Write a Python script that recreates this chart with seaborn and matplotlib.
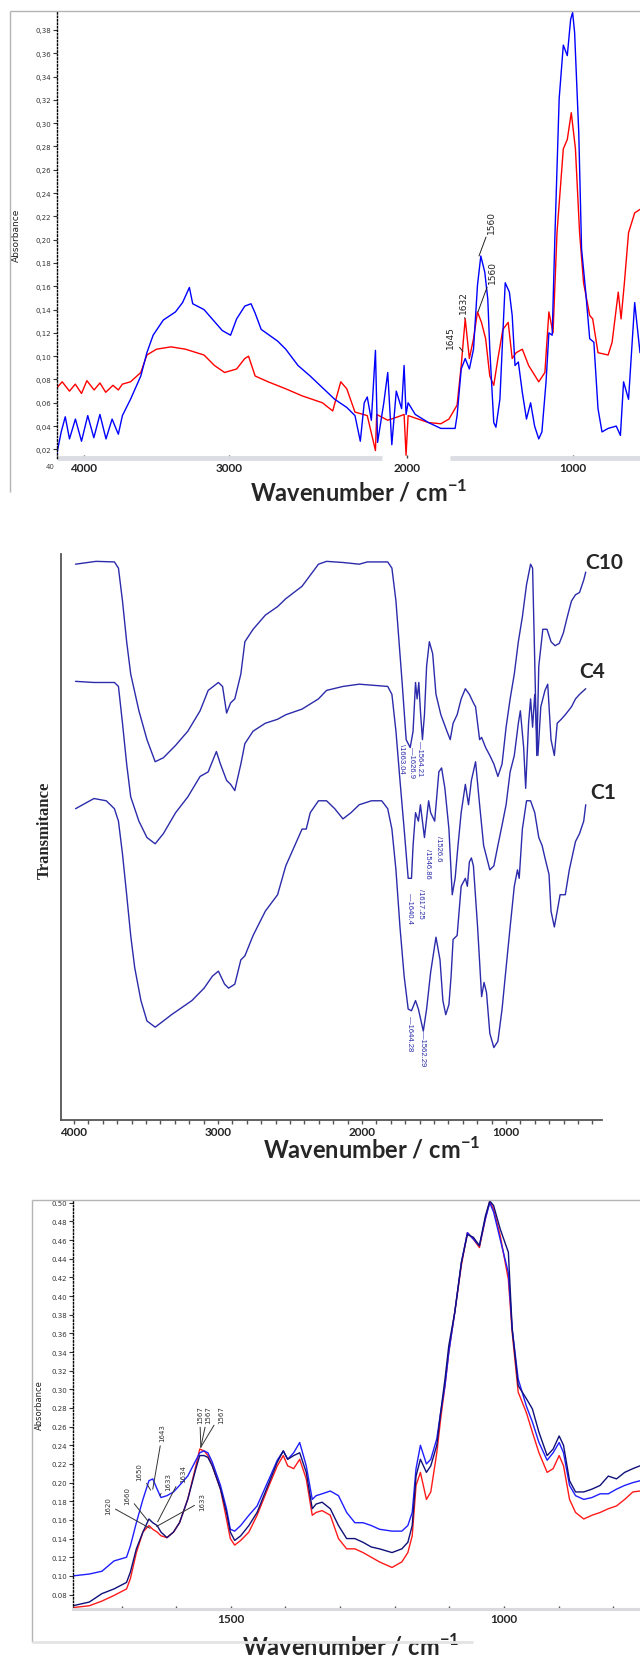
import numpy as np
import matplotlib
matplotlib.use("Agg")
import matplotlib.pyplot as plt
from matplotlib.lines import Line2D
from matplotlib.ticker import MultipleLocator
import seaborn as sns

sns.set_style("white")
plt.rcParams["font.family"] = ["DejaVu Sans"]
plt.rcParams["mathtext.fontset"] = "custom"
plt.rcParams["mathtext.rm"] = "Lato"
plt.rcParams["mathtext.bf"] = "Lato:bold"

# ---------------- panel 1: absorbance, full range (blue / red) ----------------
P1_BLUE_WN = [4186, 4157, 4129, 4100, 4059, 4017, 3974, 3932, 3890, 3848, 3806, 3763, 3735, 3679,
              3608, 3566, 3523, 3453, 3369, 3320, 3273, 3250, 3172, 3116, 3046, 2991, 2957, 2911,
              2876, 2853, 2819, 2727, 2681, 2612, 2544, 2475, 2406, 2338, 2292, 2262, 2240, 2223,
              2200, 2177, 2165, 2130, 2108, 2085, 2060, 2030, 2016, 2005, 1993, 1950, 1870, 1796,
              1710, 1698, 1673, 1649, 1624, 1599, 1575, 1555, 1531, 1513, 1501, 1477, 1464, 1440,
              1422, 1408, 1383, 1366, 1349, 1329, 1305, 1280, 1255, 1231, 1206, 1187, 1162, 1145,
              1125, 1108, 1083, 1058, 1034, 1014, 1002, 990, 965, 948, 923, 899, 874, 849, 825,
              788, 739, 714, 695, 665, 628, 596]
P1_BLUE_ABS = [0.017, 0.035, 0.048, 0.029, 0.046, 0.027, 0.049, 0.030, 0.050, 0.029, 0.046, 0.033,
               0.049, 0.063, 0.083, 0.103, 0.118, 0.131, 0.138, 0.146, 0.159, 0.145, 0.140, 0.132,
               0.122, 0.118, 0.132, 0.143, 0.145, 0.137, 0.123, 0.113, 0.106, 0.092, 0.083, 0.073,
               0.063, 0.056, 0.049, 0.027, 0.060, 0.065, 0.045, 0.105, 0.026, 0.060, 0.086, 0.024,
               0.070, 0.055, 0.092, 0.050, 0.060, 0.050, 0.043, 0.038, 0.038, 0.049, 0.089, 0.098,
               0.089, 0.106, 0.161, 0.186, 0.172, 0.149, 0.106, 0.043, 0.039, 0.063, 0.120, 0.163,
               0.155, 0.135, 0.092, 0.095, 0.069, 0.046, 0.060, 0.040, 0.029, 0.035, 0.078, 0.120,
               0.118, 0.206, 0.321, 0.367, 0.358, 0.389, 0.395, 0.378, 0.292, 0.192, 0.155, 0.115,
               0.112, 0.055, 0.035, 0.038, 0.040, 0.032, 0.078, 0.063, 0.146, 0.103]
P1_RED_WN = [4186, 4150, 4100, 4060, 4017, 3980, 3930, 3890, 3850, 3800, 3763, 3735, 3679, 3608,
             3566, 3500, 3400, 3300, 3172, 3100, 3030, 2957, 2911, 2890, 2853, 2780, 2681, 2590,
             2475, 2417, 2372, 2338, 2292, 2223, 2177, 2170, 2108, 2050, 2016, 2005, 1993, 1870,
             1796, 1747, 1698, 1673, 1649, 1624, 1599, 1575, 1551, 1526, 1501, 1477, 1452, 1422,
             1390, 1366, 1342, 1305, 1267, 1206, 1169, 1145, 1120, 1096, 1058, 1034, 1010, 985,
             960, 936, 899, 881, 849, 788, 764, 727, 710, 690, 665, 628, 596]
P1_RED_ABS = [0.073, 0.078, 0.070, 0.076, 0.068, 0.079, 0.071, 0.077, 0.069, 0.075, 0.071, 0.076,
              0.078, 0.086, 0.101, 0.106, 0.108, 0.106, 0.101, 0.092, 0.086, 0.089, 0.098, 0.100,
              0.083, 0.078, 0.072, 0.066, 0.060, 0.053, 0.078, 0.072, 0.052, 0.049, 0.019, 0.050,
              0.045, 0.048, 0.050, 0.015, 0.049, 0.043, 0.042, 0.046, 0.058, 0.092, 0.132, 0.098,
              0.115, 0.138, 0.129, 0.115, 0.083, 0.075, 0.098, 0.123, 0.129, 0.098, 0.103, 0.106,
              0.092, 0.078, 0.086, 0.138, 0.120, 0.206, 0.278, 0.286, 0.309, 0.278, 0.206, 0.163,
              0.135, 0.132, 0.103, 0.101, 0.112, 0.155, 0.132, 0.163, 0.206, 0.223, 0.226]
P1_YTICKS = [0.02, 0.04, 0.06, 0.08, 0.10, 0.12, 0.14, 0.16, 0.18, 0.20,
             0.22, 0.24, 0.26, 0.28, 0.30, 0.32, 0.34, 0.36, 0.38]
P1_XTICKS = [4000, 3000, 2000, 1000]
P1_PEAK_LABELS = ["1645", "1632", "1560", "1560"]
P1_PEAK_WN = [1663, 1651, 1566, 1572]
P1_PEAK_ABS = [0.104, 0.132, 0.186, 0.138]
P1_TEXT_WN = [1735, 1657, 1488, 1482]
P1_TEXT_ABS = [0.117, 0.147, 0.216, 0.173]
# the pasted tick labels of panel 1 are not evenly spaced: piecewise axis
P1_SCALE_WN = [0, 1000, 2000, 3000, 4000, 5000]
P1_SCALE_POS = [-739, -573, -407, -229, -84, 61]

# ---------------- panel 2: transmittance of C10 / C4 / C1 ----------------
C10_WN = [3989, 3847, 3719, 3691, 3663, 3634, 3606, 3549, 3493, 3436, 3379, 3294, 3209, 3124,
          3068, 2997, 2968, 2940, 2912, 2883, 2841, 2813, 2756, 2671, 2586, 2529, 2416, 2302,
          2246, 2132, 2019, 1962, 1821, 1792, 1764, 1721, 1693, 1665, 1645, 1628, 1617, 1605,
          1594, 1580, 1566, 1551, 1532, 1509, 1486, 1452, 1410, 1387, 1367, 1339, 1311, 1282,
          1254, 1226, 1211, 1183, 1169, 1141, 1112, 1084, 1056, 1027, 999, 971, 942, 914, 886,
          857, 829, 815, 800, 786, 772, 744, 715, 687, 659, 630, 602, 574, 545, 517, 489, 460, 446]
C10_T = [98.2, 98.7, 98.6, 97.5, 91.7, 84.5, 78.8, 72.3, 67.2, 63.3, 64.0, 66.2, 68.7, 72.3, 75.9,
         77.3, 76.6, 71.9, 73.7, 74.4, 78.8, 84.5, 86.7, 89.2, 90.7, 92.1, 94.3, 98.2, 98.7, 98.5,
         98.2, 98.6, 98.6, 97.5, 91.7, 77.3, 67.2, 65.8, 68.7, 77.3, 74.4, 77.3, 72.3, 67.2, 71.6,
         80.2, 84.5, 82.4, 75.2, 71.6, 68.7, 67.2, 70.1, 71.6, 74.4, 76.2, 75.2, 73.7, 73.0, 67.2,
         67.6, 65.8, 64.4, 62.9, 60.7, 62.9, 69.4, 74.4, 78.8, 84.5, 88.9, 94.6, 98.2, 97.5, 80.9,
         64.4, 80.2, 86.7, 86.7, 84.5, 83.8, 84.2, 86.0, 88.9, 91.7, 92.8, 93.2, 95.4, 96.8]
C4_WN = [3989, 3861, 3719, 3691, 3663, 3634, 3606, 3549, 3493, 3436, 3379, 3294, 3209, 3124, 3068,
         3011, 2983, 2940, 2912, 2883, 2841, 2813, 2756, 2671, 2586, 2529, 2416, 2302, 2246, 2132,
         2019, 1821, 1792, 1764, 1736, 1707, 1679, 1656, 1645, 1628, 1608, 1594, 1566, 1537, 1523,
         1495, 1466, 1447, 1424, 1396, 1373, 1353, 1333, 1311, 1282, 1260, 1240, 1211, 1183, 1155,
         1112, 1084, 1056, 1027, 999, 971, 942, 914, 900, 877, 863, 843, 829, 815, 800, 778, 758,
         729, 710, 687, 664, 644, 616, 588, 545, 517, 489, 446]
C4_T = [77.5, 77.3, 77.3, 76.6, 70.1, 62.9, 57.1, 52.8, 49.9, 48.8, 50.6, 54.3, 57.1, 60.7, 61.5,
        65.1, 62.9, 60.0, 59.3, 58.2, 62.9, 66.5, 68.7, 70.1, 70.8, 71.6, 72.6, 74.4, 75.9, 76.6,
        77.0, 76.6, 75.2, 68.7, 60.0, 51.4, 42.7, 42.7, 48.5, 54.3, 52.8, 55.7, 49.9, 56.4, 54.3,
        52.8, 61.5, 62.2, 58.6, 51.4, 39.8, 42.7, 48.5, 54.3, 59.3, 55.7, 60.0, 63.3, 55.7, 48.5,
        44.2, 44.9, 48.5, 52.1, 55.7, 61.5, 64.4, 70.1, 72.3, 65.8, 58.6, 70.1, 74.4, 69.4, 75.2,
        64.4, 73.0, 75.9, 77.0, 67.2, 64.4, 70.1, 70.8, 71.6, 73.0, 74.4, 75.2, 76.2]
C1_WN = [3989, 3861, 3776, 3719, 3691, 3663, 3634, 3606, 3578, 3535, 3493, 3436, 3379, 3323, 3266,
         3181, 3096, 3039, 2997, 2954, 2926, 2883, 2841, 2813, 2756, 2671, 2586, 2529, 2416, 2387,
         2359, 2302, 2246, 2189, 2132, 2076, 2019, 1934, 1863, 1821, 1792, 1764, 1736, 1707, 1679,
         1656, 1628, 1608, 1574, 1551, 1523, 1486, 1458, 1438, 1418, 1396, 1381, 1367, 1339, 1311,
         1282, 1268, 1254, 1240, 1226, 1197, 1169, 1152, 1135, 1112, 1084, 1056, 1027, 999, 971,
         942, 920, 908, 886, 857, 829, 800, 772, 749, 729, 701, 687, 664, 644, 624, 588, 560, 517,
         489, 460, 446]
C1_T = [55.0, 56.8, 56.4, 55.0, 52.8, 47.0, 39.8, 32.6, 26.9, 21.1, 17.5, 16.4, 17.5, 18.6, 19.6,
        21.1, 23.3, 25.4, 26.3, 24.0, 23.3, 24.0, 28.3, 29.0, 32.6, 36.9, 39.8, 44.9, 51.4, 51.4,
        54.3, 56.4, 56.4, 55.0, 53.2, 54.3, 55.7, 56.4, 56.4, 55.0, 51.4, 44.2, 34.1, 25.4, 19.6,
        19.3, 21.1, 19.6, 15.7, 19.6, 26.1, 32.3, 28.3, 21.1, 18.6, 20.4, 25.4, 31.9, 32.6, 41.3,
        42.7, 41.3, 45.6, 46.3, 44.9, 34.1, 21.8, 24.3, 22.5, 15.3, 12.8, 13.9, 19.6, 26.9, 34.1,
        41.3, 44.2, 42.7, 51.4, 56.4, 56.4, 54.3, 49.9, 48.5, 46.3, 43.4, 36.9, 34.1, 36.9, 39.8,
        39.8, 44.2, 49.2, 50.6, 52.8, 55.7]
P2_XTICKS = [4000, 3000, 2000, 1000]
P2_SERIES = ["C10", "C4", "C1"]
P2_SERIES_WN = [320, 403, 327]
P2_SERIES_T = [98.6, 79.3, 58.0]
P2_PEAK_LABELS = ["\\1663.04", "\u20141626.9", "\u20141564.21", "/1526.6", "/1546.86",
                  "/1617.25", "\u20141640.4", "\u20141644.28", "\u20141562.29"]
P2_PEAK_WN = [1722, 1653, 1597, 1465, 1542, 1590, 1667, 1667, 1583]
P2_PEAK_T = [64.0, 63.4, 64.0, 48.1, 45.4, 38.3, 37.6, 15.5, 12.7]

# ---------------- panel 3: absorbance, 1790-750 cm-1 ----------------
P3_WN = [1789, 1759, 1736, 1714, 1691, 1684, 1673, 1661, 1650, 1643, 1635, 1628, 1617, 1605, 1594,
         1579, 1564, 1557, 1549, 1542, 1534, 1519, 1508, 1501, 1493, 1482, 1467, 1452, 1430, 1415,
         1404, 1396, 1385, 1374, 1362, 1351, 1344, 1333, 1318, 1303, 1288, 1273, 1258, 1243, 1228,
         1205, 1187, 1176, 1168, 1161, 1153, 1142, 1134, 1123, 1116, 1108, 1101, 1090, 1078, 1067,
         1056, 1045, 1034, 1026, 1019, 1007, 992, 985, 974, 959, 948, 936, 921, 910, 899, 891, 880,
         869, 854, 839, 824, 809, 794, 779, 764, 751]
P3_BLUE = [0.100, 0.102, 0.105, 0.116, 0.120, 0.132, 0.157, 0.182, 0.202, 0.204,
           0.193, 0.184, 0.186, 0.190, 0.197, 0.207, 0.224, 0.232, 0.234, 0.232,
           0.222, 0.197, 0.172, 0.150, 0.148, 0.154, 0.165, 0.175, 0.204, 0.224,
           0.234, 0.225, 0.232, 0.243, 0.218, 0.182, 0.186, 0.188, 0.191, 0.186,
           0.168, 0.157, 0.157, 0.154, 0.150, 0.148, 0.148, 0.154, 0.168, 0.215,
           0.240, 0.220, 0.225, 0.247, 0.275, 0.304, 0.340, 0.383, 0.436, 0.468,
           0.461, 0.454, 0.483, 0.500, 0.490, 0.461, 0.425, 0.365, 0.311, 0.282,
           0.265, 0.243, 0.224, 0.232, 0.243, 0.232, 0.197, 0.186, 0.182, 0.184,
           0.188, 0.188, 0.193, 0.197, 0.200, 0.202]
P3_NAVY = [0.068, 0.072, 0.081, 0.086, 0.093, 0.104, 0.129, 0.147, 0.161, 0.157,
           0.154, 0.147, 0.141, 0.147, 0.157, 0.182, 0.215, 0.229, 0.229, 0.227,
           0.218, 0.193, 0.168, 0.147, 0.138, 0.143, 0.154, 0.168, 0.200, 0.222,
           0.234, 0.225, 0.229, 0.232, 0.211, 0.172, 0.177, 0.179, 0.172, 0.154,
           0.140, 0.140, 0.136, 0.131, 0.129, 0.125, 0.129, 0.136, 0.154, 0.207,
           0.225, 0.211, 0.218, 0.240, 0.275, 0.311, 0.347, 0.383, 0.436, 0.466,
           0.463, 0.454, 0.486, 0.502, 0.497, 0.472, 0.447, 0.365, 0.304, 0.290,
           0.279, 0.254, 0.229, 0.236, 0.250, 0.240, 0.202, 0.190, 0.190, 0.193,
           0.197, 0.207, 0.204, 0.211, 0.215, 0.218]
P3_RED = [0.066, 0.068, 0.073, 0.079, 0.086, 0.097, 0.125, 0.147, 0.154, 0.150,
          0.147, 0.143, 0.141, 0.147, 0.157, 0.182, 0.218, 0.236, 0.234, 0.229,
          0.218, 0.193, 0.161, 0.140, 0.133, 0.138, 0.147, 0.165, 0.197, 0.218,
          0.229, 0.218, 0.215, 0.225, 0.204, 0.165, 0.168, 0.170, 0.165, 0.140,
          0.129, 0.129, 0.125, 0.120, 0.115, 0.109, 0.115, 0.125, 0.143, 0.197,
          0.211, 0.182, 0.190, 0.232, 0.268, 0.304, 0.340, 0.383, 0.433, 0.468,
          0.461, 0.452, 0.483, 0.502, 0.493, 0.465, 0.418, 0.361, 0.297, 0.275,
          0.254, 0.232, 0.211, 0.215, 0.229, 0.218, 0.182, 0.168, 0.161, 0.165,
          0.168, 0.172, 0.175, 0.182, 0.190, 0.191]
P3_YTICKS = [0.08, 0.10, 0.12, 0.14, 0.16, 0.18, 0.20, 0.22, 0.24, 0.26, 0.28,
             0.30, 0.32, 0.34, 0.36, 0.38, 0.40, 0.42, 0.44, 0.46, 0.48, 0.50]
P3_XTICKS = [1500, 1000]
P3_PEAK_LABELS = ["1620", "1660", "1650", "1643", "1633", "1634", "1633", "1567", "1567", "1567"]
P3_TEXT_WN = [1725, 1690, 1667, 1625, 1615, 1588, 1553, 1557, 1542, 1518]
P3_TEXT_ABS = [0.176, 0.187, 0.212, 0.254, 0.202, 0.210, 0.180, 0.274, 0.274, 0.274]
P3_PEAK_WN = [1648, 1652, 1647, 1643, 1630, 1634, 1636, 1555, 1555, 1555]
P3_PEAK_ABS = [0.151, 0.159, 0.192, 0.193, 0.186, 0.158, 0.153, 0.238, 0.238, 0.238]

W, H = 640, 1658
XLABEL = "Wavenumber / cm$^{\\mathbf{-1}}$"


def fx(px):
    return px / W


def fy(py):
    return 1 - py / H


def frame_line(fig, x0, y0, x1, y1, color, lw):
    fig.add_artist(Line2D([fx(x0), fx(x1)], [fy(y0), fy(y1)], transform=fig.transFigure,
                          color=color, lw=lw, solid_capstyle="butt"))


def bold_ticklabels(ax, size):
    for lab in ax.get_xticklabels():
        lab.set_fontfamily("Lato")
        lab.set_fontweight("bold")
        lab.set_fontsize(size)


def p1_forward(w):
    return np.interp(w, P1_SCALE_WN, P1_SCALE_POS)


def p1_inverse(p):
    return np.interp(p, P1_SCALE_POS, P1_SCALE_WN)


def plot_panel1(fig):
    ax = fig.add_axes([fx(57), fy(459), fx(583), 447 / H])
    ax.set_xscale("function", functions=(p1_forward, p1_inverse))
    sns.lineplot(x=P1_RED_WN, y=P1_RED_ABS, ax=ax, color="#ff0000", linewidth=1.0,
                 estimator=None, sort=False)
    sns.lineplot(x=P1_BLUE_WN, y=P1_BLUE_ABS, ax=ax, color="#0000ff", linewidth=1.0,
                 estimator=None, sort=False)
    ax.set_xlim(4186, 596)
    ax.set_ylim(0.0126, 0.3963)
    for s in ["top", "right", "bottom"]:
        ax.spines[s].set_visible(False)
    ax.spines["left"].set_linestyle((0, (1, 1.5)))
    ax.spines["left"].set_color("black")
    ax.spines["left"].set_linewidth(1.0)
    # light grey x bar, broken where the 2000 label was pasted
    for seg in ([4186, 2140], [1741, 596]):
        ax.plot(seg, [0, 0], transform=ax.get_xaxis_transform(), color="#dcdce4", lw=3.5,
                clip_on=False, solid_capstyle="butt", zorder=1)
    ax.set_xlim(4186, 596)
    ax.set_yticks(P1_YTICKS)
    ax.set_yticklabels([f"{t:.2f}".replace(".", ",") for t in P1_YTICKS])
    ax.tick_params(axis="y", direction="out", length=3, width=0.8, labelsize=5, pad=1,
                   colors="#333333", left=True)
    ax.set_xticks(P1_XTICKS)
    ax.set_xticklabels([str(t) for t in P1_XTICKS])
    ax.tick_params(axis="x", direction="in", length=2.5, width=1, color="#444444", pad=3,
                   bottom=True)
    bold_ticklabels(ax, 8.5)
    ax.set_xlabel(XLABEL, fontfamily="Lato", fontweight="bold", fontsize=17)
    ax.xaxis.set_label_coords(0.517, -0.045)
    ax.set_ylabel("")
    ax.text(-0.069, 0.501, "Absorbance", rotation=90, transform=ax.transAxes, ha="center",
            va="center", fontsize=6.5, color="#222222")
    ax.text(-0.012, -0.018, "40", transform=ax.transAxes, ha="center", va="center",
            fontsize=5, color="#444444")
    for lab, pw, pa, tw, ta in zip(P1_PEAK_LABELS, P1_PEAK_WN, P1_PEAK_ABS, P1_TEXT_WN, P1_TEXT_ABS):
        ax.annotate(lab, xy=(pw, pa), xytext=(tw, ta), rotation=90, ha="center", va="center",
                    fontsize=6.5, color="#222222",
                    arrowprops=dict(arrowstyle="-", color="#222222", lw=0.7, shrinkA=1, shrinkB=0))
    frame_line(fig, 10, 12, 10, 493, "#b4b4b4", 1.0)
    frame_line(fig, 10, 12, 640, 12, "#b4b4b4", 1.0)


def plot_panel2(fig):
    ax = fig.add_axes([fx(61), fy(1121), fx(541), 566 / H])
    color = "#2b2bab"
    for wn, t in [(C10_WN, C10_T), (C4_WN, C4_T), (C1_WN, C1_T)]:
        sns.lineplot(x=wn, y=t, ax=ax, color=color, linewidth=1.0, estimator=None, sort=False)
    ax.set_xlim(4090, 333)
    ax.set_ylim(0, 100)
    for s in ["top", "right"]:
        ax.spines[s].set_visible(False)
    for s in ["left", "bottom"]:
        ax.spines[s].set_color("#555555")
        ax.spines[s].set_linewidth(1.3)
    ax.set_yticks([])
    ax.set_xticks(P2_XTICKS)
    ax.set_xticklabels([str(t) for t in P2_XTICKS])
    ax.xaxis.set_minor_locator(MultipleLocator(100))
    ax.tick_params(axis="x", which="both", direction="out", length=3, width=1,
                   color="#555555", pad=1, bottom=True)
    bold_ticklabels(ax, 8.5)
    ax.set_xlabel(XLABEL, fontfamily="Lato", fontweight="bold", fontsize=17)
    ax.xaxis.set_label_coords(0.575, -0.027)
    ax.set_ylabel("")
    ax.text(-0.03, 0.514, "Transmitance", rotation=90, transform=ax.transAxes, ha="center",
            va="center", fontsize=12, fontfamily="Liberation Serif", fontweight="bold")
    for name, wn, t in zip(P2_SERIES, P2_SERIES_WN, P2_SERIES_T):
        ax.text(wn, t, name, ha="center", va="center", fontsize=15, fontfamily="Lato",
                fontweight="bold", clip_on=False)
    for lab, wn, t in zip(P2_PEAK_LABELS, P2_PEAK_WN, P2_PEAK_T):
        ax.text(wn, t, lab, rotation=270, ha="center", va="center", fontsize=5.5,
                fontfamily="Liberation Sans", color=color)


def plot_panel3(fig):
    ax = fig.add_axes([fx(73), fy(1610), fx(567), 409 / H])
    sns.lineplot(x=P3_WN, y=P3_RED, ax=ax, color="#ff1a1a", linewidth=1.0, estimator=None, sort=False)
    sns.lineplot(x=P3_WN, y=P3_BLUE, ax=ax, color="#1e1eff", linewidth=1.0, estimator=None, sort=False)
    sns.lineplot(x=P3_WN, y=P3_NAVY, ax=ax, color="#10107a", linewidth=1.0, estimator=None, sort=False)
    ax.set_xlim(1789, 751)
    ax.set_ylim(0.0645, 0.503)
    for s in ["top", "right"]:
        ax.spines[s].set_visible(False)
    ax.spines["left"].set_linestyle((0, (1, 1.5)))
    ax.spines["left"].set_color("black")
    ax.spines["left"].set_linewidth(1.0)
    ax.spines["bottom"].set_color("#dadade")
    ax.spines["bottom"].set_linewidth(2.2)
    ax.set_yticks(P3_YTICKS)
    ax.set_yticklabels([f"{t:.2f}" for t in P3_YTICKS])
    ax.tick_params(axis="y", direction="out", length=3, width=0.8, labelsize=5, pad=1,
                   colors="#333333", left=True)
    ax.set_xticks(P3_XTICKS)
    ax.set_xticklabels([str(t) for t in P3_XTICKS])
    ax.xaxis.set_minor_locator(MultipleLocator(100))
    ax.tick_params(axis="x", which="both", direction="in", length=2, width=1,
                   color="#555555", pad=3, bottom=True)
    bold_ticklabels(ax, 8.5)
    ax.set_xlabel(XLABEL, fontfamily="Lato", fontweight="bold", fontsize=17)
    ax.xaxis.set_label_coords(0.489, -0.056)
    ax.set_ylabel("")
    ax.text(-0.06, 0.50, "Absorbance", rotation=90, transform=ax.transAxes, ha="center",
            va="center", fontsize=6, color="#222222")
    for lab, tw, ta, pw, pa in zip(P3_PEAK_LABELS, P3_TEXT_WN, P3_TEXT_ABS, P3_PEAK_WN, P3_PEAK_ABS):
        ax.annotate(lab, xy=(pw, pa), xytext=(tw, ta), rotation=90, ha="center", va="center",
                    fontsize=5, color="#333333",
                    arrowprops=dict(arrowstyle="-", color="#333333", lw=0.7, shrinkA=1, shrinkB=0))
    frame_line(fig, 32, 1201, 32, 1643, "#b4b4b4", 1.0)
    frame_line(fig, 32, 1201, 640, 1201, "#b4b4b4", 1.0)
    frame_line(fig, 32, 1643, 473, 1643, "#e4e4e4", 2.0)


def main():
    fig = plt.figure(figsize=(W / 100, H / 100), dpi=100)
    plot_panel1(fig)
    plot_panel2(fig)
    plot_panel3(fig)
    fig.savefig("out.png", dpi=100, facecolor="white")
    plt.close(fig)


if __name__ == "__main__":
    main()
